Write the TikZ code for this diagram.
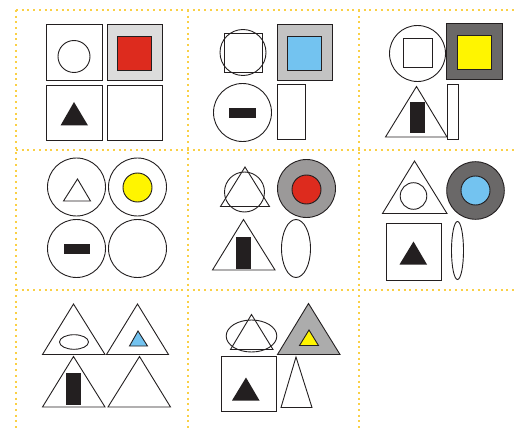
\documentclass[tikz,border=0pt]{standalone}
\usepackage{tikz}
\definecolor{gridyellow}{RGB}{250,208,70}
\definecolor{inkblack}{RGB}{35,31,32}
\definecolor{fillred}{RGB}{221,43,30}
\definecolor{fillblue}{RGB}{115,195,240}
\definecolor{fillyellow}{RGB}{255,245,0}
\definecolor{paleshade}{RGB}{220,220,220}
\definecolor{midshade}{RGB}{195,195,195}
\definecolor{greyshade}{RGB}{155,153,153}
\definecolor{coneshade}{RGB}{172,172,172}
\definecolor{darkshade}{RGB}{106,104,104}

\begin{document}
\begin{tikzpicture}[
    x=1pt, y=-1pt,
    grid/.style={
        draw=gridyellow,
        line width=1.3pt,
        dash pattern=on 2pt off 3.7pt
    },
    outline/.style={draw=inkblack, line width=0.9pt, fill=white},
    solid/.style={draw=inkblack, line width=0.9pt, fill=#1}
]
\useasboundingbox (0,0) rectangle (515,428);

% =================== Dotted frame ===================
\foreach \y in {10,150,290}
    \draw[grid] (16,\y) -- (515,\y);
\foreach \x in {16,188,359}
    \draw[grid] (\x,10) -- (\x,428);

% =================== Row 1, cell 1 ===================
\draw[outline] (46,24) rectangle (102,80);
\draw[outline] (74,56.5) circle[radius=16];
\draw[solid=paleshade] (107,24) rectangle (162,80);
\draw[solid=fillred] (117,36) rectangle (151,70);
\draw[outline] (46,85) rectangle (102,140);
\fill[inkblack] (74,102) -- (88,125.5) -- (60.5,125.5) -- cycle;
\draw[outline] (107,85) rectangle (162,140);

% =================== Row 1, cell 2 ===================
\draw[outline] (224,33) rectangle (262.5,72);
\draw[inkblack, line width=0.9pt] (243,52.5) circle[radius=23];
\draw[solid=midshade] (277,24) rectangle (332,80);
\draw[solid=fillblue] (287,36) rectangle (321,70);
\draw[outline] (242.5,112.5) circle[radius=29];
\fill[inkblack] (229,108) rectangle (256,118);
\draw[outline] (277.5,84.5) rectangle (305.5,139.5);

% =================== Row 1, cell 3 ===================
\draw[outline] (417.5,53.5) circle[radius=28];
\draw[outline] (403,38.5) rectangle (432,67.5);
\draw[solid=darkshade] (446.5,23) rectangle (502,79);
\draw[solid=fillyellow] (457.5,35.5) rectangle (491,69.5);
\draw[outline] (416.5,86.5) -- (447,137) -- (385.5,137) -- cycle;
\fill[inkblack] (409.5,102) rectangle (425,133.5);
\draw[outline] (447.5,84.5) rectangle (458.5,139.5);

% =================== Row 2, cell 1 ===================
\draw[outline] (76.5,187) circle[radius=29];
\draw[outline] (77.5,179) -- (90.5,201) -- (63.5,201) -- cycle;
\draw[outline] (137.5,187) circle[radius=29];
\draw[solid=fillyellow] (137.5,187.5) circle[radius=14.5];
\draw[outline] (76.5,248.5) circle[radius=29];
\fill[inkblack] (63.5,243.5) rectangle (90,253.5);
\draw[outline] (137.5,248.5) circle[radius=29];

% =================== Row 2, cell 2 ===================
\draw[outline] (245,167) -- (269.5,206.5) -- (220.5,206.5) -- cycle;
\draw[inkblack, line width=0.9pt] (244.5,192) circle[radius=20];
\draw[solid=greyshade] (306.5,188.5) circle[radius=29];
\draw[solid=fillred] (306.5,189.5) circle[radius=14.5];
\draw[outline] (243.5,219.5) -- (275,270) -- (212.5,270) -- cycle;
\fill[inkblack] (236,237) rectangle (251,269);
\draw[outline] (296,248.5) ellipse[x radius=14.5, y radius=29];

% =================== Row 2, cell 3 ===================
\draw[outline] (414.5,161) -- (447,213.5) -- (382.5,213.5) -- cycle;
\draw[outline] (413.5,196) circle[radius=13.3];
\draw[solid=darkshade] (475.5,190.5) circle[radius=28.8];
\draw[solid=fillblue] (475.5,190.5) circle[radius=14.5];
\draw[outline] (386.5,223.5) rectangle (441.5,280);
\fill[inkblack] (413.5,241.5) -- (427,264.5) -- (399.5,264.5) -- cycle;
\draw[outline] (457.5,250.5) ellipse[x radius=6, y radius=29];

% =================== Row 3, cell 1 ===================
\draw[outline] (73.5,304) -- (105,354.5) -- (42.5,354.5) -- cycle;
\draw[outline] (74,342) ellipse[x radius=14.5, y radius=7.3];
\draw[outline] (137.5,304) -- (168.5,354.5) -- (106.5,354.5) -- cycle;
\draw[solid=fillblue] (138,331) -- (147.5,346) -- (129.5,346) -- cycle;
\draw[outline] (73.5,356.5) -- (105,407) -- (42.5,407) -- cycle;
\fill[inkblack] (66,372.5) rectangle (81,405);
\draw[outline] (139.5,356.5) -- (170.5,407) -- (108,407) -- cycle;

% =================== Row 3, cell 2 ===================
\draw[outline] (251.5,336) ellipse[x radius=25.3, y radius=16];
\draw[inkblack, line width=0.9pt] (251.5,314.5) -- (273,349.5) -- (230.5,349.5) -- cycle;
\draw[solid=coneshade] (308.5,303.5) -- (340,354.5) -- (277.5,354.5) -- cycle;
\draw[solid=fillyellow] (309,330) -- (318.5,345.5) -- (299.5,345.5) -- cycle;
\draw[outline] (221,356) rectangle (276,411);
\fill[inkblack] (246,377.5) -- (259.5,400.5) -- (232,400.5) -- cycle;
\draw[outline] (296,357) -- (312,407.5) -- (281,407.5) -- cycle;

\end{tikzpicture}
\end{document}
